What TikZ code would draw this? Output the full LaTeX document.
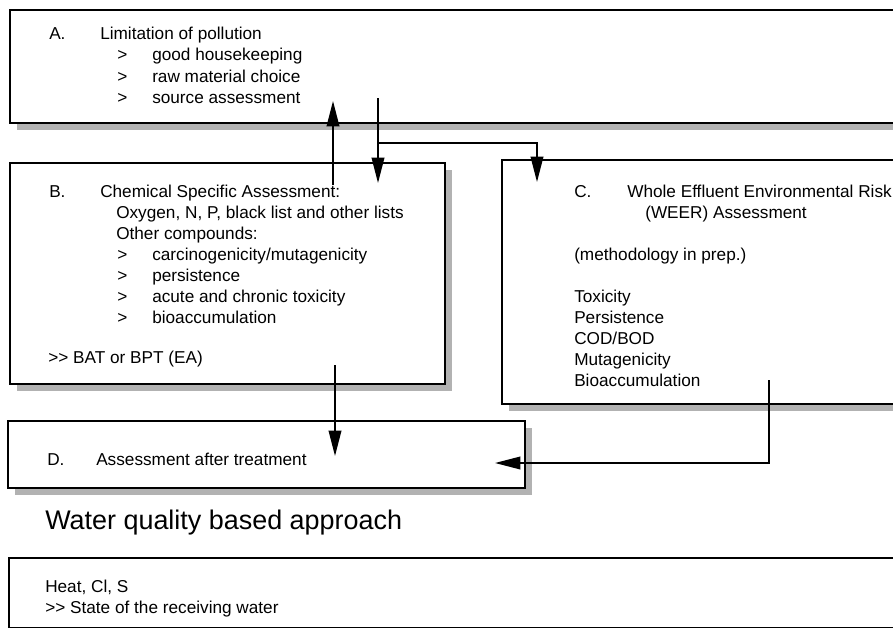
\documentclass[tikz,border=0pt]{standalone}
\usepackage{fontspec}
\setmainfont{Liberation Sans}
\usetikzlibrary{arrows.meta}
\usetikzlibrary{shadows,fit}

\newcommand\twogt{>\kern0pt>}

\begin{document}
\begin{tikzpicture}[x=0.75pt,y=-0.75pt,
  box/.style={draw, line width=1.5pt, fill=white, inner sep=0,
    drop shadow={shadow xshift=5.5pt, shadow yshift=-5.5pt, fill=black!30, opacity=1}},
  flatbox/.style={draw, line width=1.4pt, fill=white, inner sep=0},
  txt/.style={anchor=base west, inner sep=0, font=\fontsize{12.9}{15}\selectfont},
  arr/.style={line width=1.1pt, -{Triangle[length=19pt,width=9.5pt]}}]
\useasboundingbox (0,0) rectangle (893,628);
\clip (0,0) rectangle (893,628);

% boxes
\node[box, fit={(10,10) (920,123)}] (boxA) {};
\node[box, fit={(10,163) (445,384)}] (boxB) {};
\node[box, fit={(502,160) (920,404)}] (boxC) {};
\node[box, fit={(8,421) (525,488)}] (boxD) {};
\node[flatbox, fit={(9,558) (920,628)}] (boxE) {};

% A
\node[txt] (aA) at (49,39) {A.};
\node[txt] (aT) at (100,39) {Limitation of pollution};
\foreach \t [count=\i] in {good housekeeping, raw material choice, source assessment} {
 \node[txt] (ag\i) at (117,{39+21.5*\i}) {>};
 \node[txt] (ai\i) at (152,{39+21.5*\i}) {\t};
}

% B
\node[txt] (bB) at (49,197) {B.};
\node[txt] (bT) at (100,197) {Chemical Specific Assessment:};
\node[txt] (bO) at (116,218) {Oxygen, N, P, black list and other lists};
\node[txt] (bC) at (116,239) {Other compounds:};
\foreach \t [count=\i] in {carcinogenicity/mutagenicity, persistence, acute and chronic toxicity, bioaccumulation} {
 \node[txt] (bg\i) at (117,{239+21*\i}) {>};
 \node[txt] (bi\i) at (152,{239+21*\i}) {\t};
}
\node[txt] (bE) at (48,363) {\twogt{} BAT or BPT (EA)};

% C
\node[txt] (cC) at (574,197) {C.};
\node[txt] (cT) at (627,197) {Whole Effluent Environmental Risk};
\node[txt] (cW) at (645,218) {(WEER) Assessment};
\node[txt] (cM) at (574,260) {(methodology in prep.)};
\foreach \t [count=\i] in {Toxicity, Persistence, COD/BOD, Mutagenicity, Bioaccumulation}
 \node[txt] (ci\i) at (574,{281+21*\i}) {\t};

% D
\node[txt] (dD) at (47,465) {D.};
\node[txt] (dT) at (96,465) {Assessment after treatment};

\node[txt, font=\fontsize{20.2}{24}\selectfont] (title) at (45,529) {Water quality based approach};

\node[txt] (eH) at (45,592) {Heat, Cl, S};
\node[txt] (eS) at (45,613) {\twogt{} State of the receiving water};

% arrows
\coordinate (upS) at (333,185);
\coordinate (upE) at (333,101);
\coordinate (dnS) at (378,98);
\coordinate (dnE) at (378,183);
\coordinate (dnB) at (378,143);
\coordinate (dnC) at (537,182);
\coordinate (bdS) at (335,365);
\coordinate (bdE) at (335,456);
\coordinate (cdS) at (769,380);
\coordinate (cdE) at (495,463);
\draw[arr] (upS) -- (upE);
\draw[arr] (dnS) -- (dnE);
\draw[arr] (dnB) -| (dnC);
\draw[arr] (bdS) -- (bdE);
\draw[arr] (cdS) |- (cdE);
\end{tikzpicture}
\end{document}
